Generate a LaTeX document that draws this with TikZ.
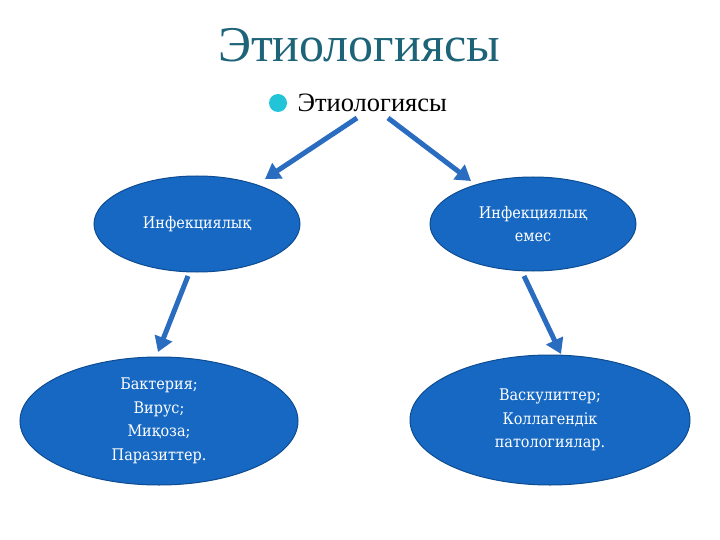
\documentclass[tikz,border=0pt]{standalone}
\usepackage{fontspec}
\setmainfont{Liberation Serif}
\newfontfamily\ellfont{DejaVu Serif Condensed}
\usetikzlibrary{shapes.geometric,arrows.meta}
\definecolor{titlec}{HTML}{1E6478}
\definecolor{bulletc}{HTML}{22C4D8}
\definecolor{ellfill}{HTML}{1668C2}
\definecolor{elldraw}{HTML}{0E4C92}
\definecolor{arrc}{HTML}{2A6CC0}
\tikzset{
  ell/.style={ellipse, fill=ellfill, draw=elldraw, line width=1pt, text=white, align=center, inner sep=0pt,
    font=\ellfont\fontsize{16}{23.5}\selectfont},
  arr/.style={draw=arrc, line width=5pt, -{Triangle[width=18pt,length=15pt]}}
}
\begin{document}
\begin{tikzpicture}[x=1pt,y=-1pt]
\useasboundingbox (0,0) rectangle (720,540);
\node[text=titlec, font=\fontsize{50}{56}\selectfont] (title) at (359,45) {Этиологиясы};
\fill[bulletc] (278,103) circle (9);
\node[anchor=west, font=\fontsize{26.5}{30}\selectfont] (sub) at (294,103) {Этиологиясы};
\coordinate (s1) at (357,118);
\coordinate (s2) at (388,118);
\node[ell, minimum width=206pt, minimum height=96pt] (e1) at (197,224) {Инфекциялық};
\node[ell, minimum width=206pt, minimum height=94pt] (e2) at (533,224) {Инфекциялық\\емес};
\node[ell, minimum width=278pt, minimum height=128pt] (e3) at (159,421) {Бактерия;\\Вирус;\\Миқоза;\\Паразиттер.};
\node[ell, minimum width=280pt, minimum height=130pt] (e4) at (550,420) {Васкулиттер;\\Коллагендік\\патологиялар.};
\coordinate (b1) at (188,276);
\coordinate (b2) at (524,276);
\draw[arr] (s1) -- (265,179);
\draw[arr] (s2) -- (471,181);
\draw[arr] (b1) -- (158,352);
\draw[arr] (b2) -- (561,354);
\end{tikzpicture}
\end{document}
